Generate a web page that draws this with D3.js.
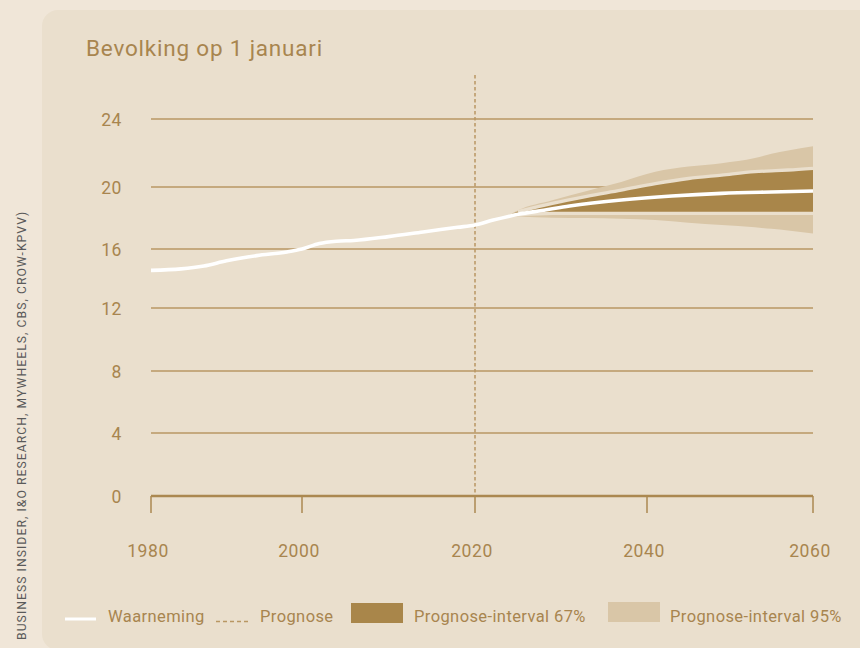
<!DOCTYPE html>
<html>
<head>
<meta charset="utf-8">
<script src="https://cdn.jsdelivr.net/npm/d3@7/dist/d3.min.js"></script>
<style>
  html, body { margin: 0; padding: 0; background: #f0e6d8; }
  svg { display: block; }
  text { font-family: Roboto, "Noto Sans", sans-serif; }
</style>
</head>
<body>
<svg id="chart" width="860" height="648"></svg>
<script>
// ---- data ----
const title = "Bevolking op 1 januari";
const source = "BUSINESS INSIDER, I&O RESEARCH, MYWHEELS, CBS, CROW-KPVV)";
const xTicks = [1980, 2000, 2020, 2040, 2060];
const yTicks = [0, 4, 8, 12, 16, 20, 24];
const forecastStart = 2020;

// observed + median line (millions)
const lineYears  = [1980, 1984, 1987, 1990, 1994, 1998, 2000, 2002, 2004, 2006, 2010, 2014, 2018, 2020, 2022, 2024, 2025, 2028, 2031, 2037, 2043, 2049, 2055, 2060];
const lineValues = [14.55, 14.65, 14.85, 15.2, 15.55, 15.8, 16.0, 16.35, 16.5, 16.55, 16.8, 17.1, 17.4, 17.55, 17.85, 18.12, 18.24, 18.5, 18.77, 19.16, 19.42, 19.59, 19.68, 19.74];

// prognosis intervals
const bandYears = [2024, 2025, 2029, 2033, 2037, 2041, 2045, 2049, 2053, 2055, 2057, 2060];
const upper95   = [18.2, 18.5, 19.15, 19.75, 20.3, 20.9, 21.2, 21.4, 21.7, 21.95, 22.15, 22.4];
const upper67   = [18.2, 18.42, 18.95, 19.4, 19.8, 20.2, 20.5, 20.7, 20.9, 20.95, 21.0, 21.1];
const lower67   = [18.2, 18.2, 18.3, 18.3, 18.3, 18.3, 18.3, 18.3, 18.3, 18.3, 18.3, 18.3];
const lower95   = [18.2, 18.1, 18.02, 18.0, 17.95, 17.87, 17.7, 17.55, 17.4, 17.3, 17.2, 17.0];

const legendItems = ["Waarneming", "Prognose", "Prognose-interval 67%", "Prognose-interval 95%"];

// ---- colours ----
const C = {
  page: "#f0e6d8", panel: "#eadfcd", text: "#a8854f", grid: "#b99763",
  axis: "#ab8850", dark: "#a9864a", light: "#d9c6a7", line: "#ffffff", source: "#5a5a5a"
};

const svg = d3.select("#chart");

svg.append("rect").attr("x", 0).attr("y", 0).attr("width", 860).attr("height", 648).attr("fill", C.page);
svg.append("rect").attr("x", 42).attr("y", 10).attr("width", 900).attr("height", 640)
  .attr("rx", 16).attr("fill", C.panel);

// scales (piecewise, as in the original artwork)
const x = d3.scaleLinear().domain(xTicks).range([151, 302, 475, 647, 813]);
const y = d3.scaleLinear().domain(yTicks).range([496, 433, 371, 308, 249, 187, 119]);

// title
svg.append("text").attr("x", 86).attr("y", 56).attr("fill", C.text)
  .attr("font-size", 22.5).attr("font-weight", 400).attr("letter-spacing", 0.8).text(title);

// source (vertical)
svg.append("text").attr("transform", "translate(26,640) rotate(-90)")
  .attr("fill", C.source).attr("font-size", 12.2).attr("letter-spacing", 1.05).text(source);

// grid lines
const g = svg.append("g");
g.selectAll("line.grid").data(yTicks.filter(d => d !== 0)).join("line")
  .attr("x1", x(1980)).attr("x2", x(2060))
  .attr("y1", d => y(d)).attr("y2", d => y(d))
  .attr("stroke", C.grid).attr("stroke-width", 1.5);

// y labels
g.selectAll("text.ylab").data(yTicks).join("text")
  .attr("x", 122).attr("y", d => y(d) + 6.5).attr("text-anchor", "end")
  .attr("fill", C.text).attr("font-size", 17.5).attr("letter-spacing", 0.6).text(d => d);

// bands
const bandData = bandYears.map((yr, i) => ({yr, u95: upper95[i], u67: upper67[i], l67: lower67[i], l95: lower95[i]}));
const area = (lo, hi) => d3.area().curve(d3.curveMonotoneX)
  .x(d => x(d.yr)).y0(d => y(d[lo])).y1(d => y(d[hi]));
const edge = key => d3.line().curve(d3.curveMonotoneX).x(d => x(d.yr)).y(d => y(d[key]));

g.append("path").datum(bandData).attr("d", area("l95", "u95")).attr("fill", C.light);
g.append("path").datum(bandData).attr("d", area("l67", "u67")).attr("fill", C.dark);
["u67", "l67"].forEach(k => {
  g.append("path").datum(bandData.slice(1)).attr("d", edge(k))
    .attr("fill", "none").attr("stroke", C.panel).attr("stroke-width", 3.3);
});

// forecast divider
g.append("line").attr("x1", x(forecastStart)).attr("x2", x(forecastStart))
  .attr("y1", 75).attr("y2", y(0))
  .attr("stroke", C.grid).attr("stroke-width", 1.5).attr("stroke-dasharray", "3.5,2.5");

// x axis
g.append("line").attr("x1", x(1980)).attr("x2", x(2060)).attr("y1", y(0)).attr("y2", y(0))
  .attr("stroke", C.axis).attr("stroke-width", 2.5);
g.selectAll("line.xt").data(xTicks).join("line")
  .attr("x1", d => x(d)).attr("x2", d => x(d)).attr("y1", y(0)).attr("y2", y(0) + 17)
  .attr("stroke", C.axis).attr("stroke-width", 1.5);
g.selectAll("text.xlab").data(xTicks).join("text")
  .attr("x", d => x(d) - 3).attr("y", 557).attr("text-anchor", "middle")
  .attr("fill", C.text).attr("font-size", 17.5).attr("letter-spacing", 0.6).text(d => d);

// line
const lineData = lineYears.map((yr, i) => ({yr, v: lineValues[i]}));
g.append("path").datum(lineData)
  .attr("d", d3.line().curve(d3.curveMonotoneX).x(d => x(d.yr)).y(d => y(d.v)))
  .attr("fill", "none").attr("stroke", C.line).attr("stroke-width", 3.6);

// legend
const L = svg.append("g");
const ly = 622;
const lfs = 16.5, lls = 0.4;
L.append("line").attr("x1", 65).attr("x2", 96).attr("y1", 619).attr("y2", 619)
  .attr("stroke", C.line).attr("stroke-width", 3);
L.append("text").attr("x", 108).attr("y", ly).attr("fill", C.text).attr("font-size", lfs).attr("letter-spacing", lls).text(legendItems[0]);
L.append("line").attr("x1", 216).attr("x2", 249).attr("y1", 621.5).attr("y2", 621.5)
  .attr("stroke", C.grid).attr("stroke-width", 1.5).attr("stroke-dasharray", "4,3");
L.append("text").attr("x", 260).attr("y", ly).attr("fill", C.text).attr("font-size", lfs).attr("letter-spacing", lls).text(legendItems[1]);
L.append("rect").attr("x", 351).attr("y", 603).attr("width", 52).attr("height", 20).attr("fill", C.dark);
L.append("text").attr("x", 414).attr("y", ly).attr("fill", C.text).attr("font-size", lfs).attr("letter-spacing", lls).text(legendItems[2]);
L.append("rect").attr("x", 608).attr("y", 602).attr("width", 52).attr("height", 20).attr("fill", C.light);
L.append("text").attr("x", 670).attr("y", ly).attr("fill", C.text).attr("font-size", lfs).attr("letter-spacing", lls).text(legendItems[3]);
</script>
</body>
</html>
